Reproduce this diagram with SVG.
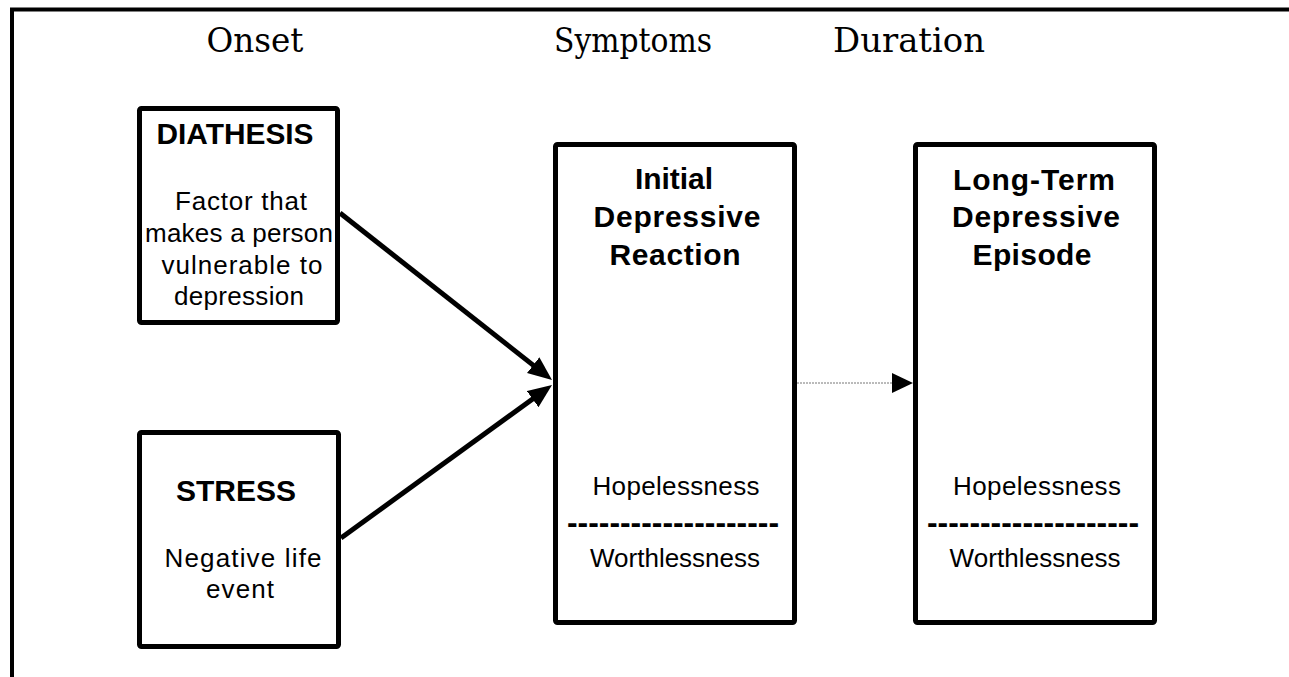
<svg xmlns="http://www.w3.org/2000/svg" width="1289" height="677" viewBox="0 0 1289 677">
<style>
.box{fill:#fff;stroke:#000;stroke-width:5}
.hd{font-family:"DejaVu Serif","Liberation Serif",serif;font-size:34px;fill:#000;text-anchor:middle}
.b{font-family:"Liberation Sans",Arial,sans-serif;font-size:30px;font-weight:bold;fill:#000;text-anchor:middle}
.r{font-family:"Liberation Sans",Arial,sans-serif;font-size:26px;fill:#000;text-anchor:middle}
.d{font-family:"Liberation Sans",Arial,sans-serif;font-size:32px;font-weight:bold;fill:#000;text-anchor:middle}
.thick{stroke:#000;stroke-width:5;fill:none}
.dot{stroke:#777;stroke-width:1;stroke-dasharray:2 1;fill:none}
</style>
<defs>
<marker id="ah" markerUnits="userSpaceOnUse" markerWidth="26" markerHeight="22" refX="12" refY="10" orient="auto">
<path d="M0,0 L24,10 L0,20 z" fill="#000"/>
</marker>
<marker id="ah2" markerUnits="userSpaceOnUse" markerWidth="24" markerHeight="22" refX="0" refY="10" orient="auto">
<path d="M0,0 L21,10 L0,20 z" fill="#000"/>
</marker>
</defs>
<rect width="1289" height="677" fill="#fff"/>
<path d="M12,677 V9.5 H1289" stroke="#000" stroke-width="4" fill="none"/>
<g id="headings">
<text class="hd" x="255" y="52" textLength="97" lengthAdjust="spacingAndGlyphs">Onset</text>
<text class="hd" x="633" y="52" textLength="158" lengthAdjust="spacingAndGlyphs">Symptoms</text>
<text class="hd" x="909" y="52" textLength="152" lengthAdjust="spacingAndGlyphs">Duration</text>
</g>
<g id="connectors">
<line class="thick" x1="340" y1="213" x2="542.6" y2="372.6" marker-end="url(#ah)"/>
<line class="thick" x1="341" y1="538" x2="542.3" y2="392.0" marker-end="url(#ah)"/>
<line class="dot" x1="797" y1="383" x2="892" y2="383" marker-end="url(#ah2)"/>
</g>
<g id="diathesis">
<rect class="box" x="139.5" y="108.5" width="198" height="214" rx="2"/>
<text class="b" x="235" y="144" textLength="157" lengthAdjust="spacingAndGlyphs">DIATHESIS</text>
<text class="r" x="241" y="210" textLength="132">Factor that</text>
<text class="r" x="239" y="242" textLength="188">makes a person</text>
<text class="r" x="242" y="274" textLength="161">vulnerable to</text>
<text class="r" x="239" y="305" textLength="130">depression</text>
</g>
<g id="stress">
<rect class="box" x="139.5" y="432.5" width="199" height="214" rx="2"/>
<text class="b" x="236" y="501" textLength="120" lengthAdjust="spacingAndGlyphs">STRESS</text>
<text class="r" x="243" y="567" textLength="157">Negative life</text>
<text class="r" x="240" y="598" textLength="68">event</text>
</g>
<g id="initial">
<rect class="box" x="555.5" y="144.5" width="239" height="478" rx="2"/>
<text class="b" x="674" y="189" textLength="78">Initial</text>
<text class="b" x="677" y="227" textLength="167">Depressive</text>
<text class="b" x="675" y="265" textLength="131">Reaction</text>
<text class="r" x="676" y="495" textLength="167">Hopelessness</text>
<text class="d" x="673" y="533" textLength="212" lengthAdjust="spacingAndGlyphs">--------------------</text>
<text class="r" x="675" y="567" textLength="170">Worthlessness</text>
</g>
<g id="longterm">
<rect class="box" x="915.5" y="144.5" width="239" height="478" rx="2"/>
<text class="b" x="1034" y="190" textLength="162">Long-Term</text>
<text class="b" x="1036" y="227" textLength="168">Depressive</text>
<text class="b" x="1032" y="265" textLength="119">Episode</text>
<text class="r" x="1037" y="495" textLength="168">Hopelessness</text>
<text class="d" x="1033" y="533" textLength="212" lengthAdjust="spacingAndGlyphs">--------------------</text>
<text class="r" x="1035" y="567" textLength="171">Worthlessness</text>
</g>
</svg>
